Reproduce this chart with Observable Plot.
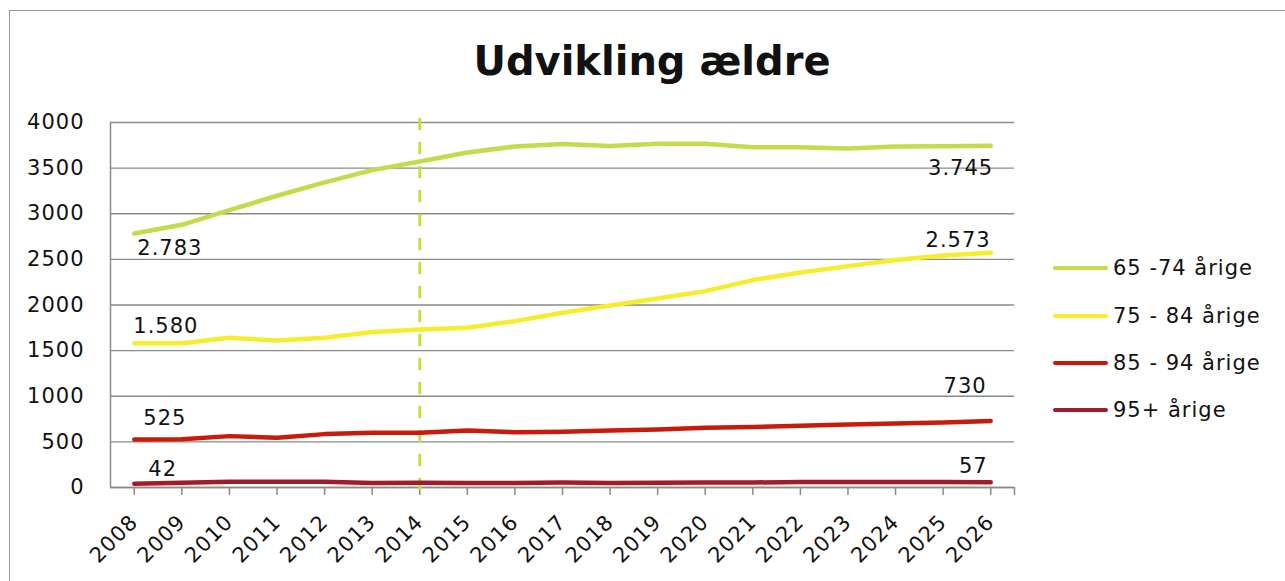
<!DOCTYPE html>
<html><head><meta charset="utf-8">
<script src="https://cdn.jsdelivr.net/npm/d3@7"></script>
<script src="https://cdn.jsdelivr.net/npm/@observablehq/plot@0.6"></script>
<style>
body{margin:0;background:#fff;}
#wrap{position:relative;width:1285px;height:581px;overflow:hidden;font-family:"DejaVu Sans",sans-serif;color:#111;background:#fff;}
#border{position:absolute;left:9px;top:10px;width:1400px;height:700px;border-left:1.5px solid #9a9a9a;border-top:1.5px solid #9a9a9a;}
#chart{position:absolute;left:0;top:0;}
#title{position:absolute;left:0;width:1304px;top:41px;text-align:center;font-weight:bold;font-size:40px;line-height:40px;}
#legend{position:absolute;left:1053px;top:0;}
.item{position:absolute;left:0;height:20px;display:flex;align-items:center;white-space:nowrap;font-size:21px;letter-spacing:1px;}
.sw{width:55px;height:4.5px;border-radius:3px;margin-right:5px;}
</style>
</head><body>
<div id="wrap">
  <div id="border"></div>
  <div id="chart"></div>
  <div id="title"></div>
  <div id="legend"></div>
</div>
<script>
// ---- data ----
const years = [2008,2009,2010,2011,2012,2013,2014,2015,2016,2017,2018,2019,2020,2021,2022,2023,2024,2025,2026];
const seriesNames = ["65 -74 årige","75 - 84 årige","85 - 94 årige","95+ årige"];
const v65 = [2783,2879,3040,3197,3343,3478,3573,3671,3737,3765,3743,3767,3767,3730,3730,3715,3738,3740,3745];
const v75 = [1580,1580,1640,1611,1640,1703,1732,1750,1823,1915,1995,2071,2152,2273,2357,2426,2492,2543,2573];
const v85 = [525,528,563,545,585,600,600,625,606,610,625,636,654,662,676,690,702,712,730];
const v95 = [42,51,62,62,62,50,53,50,50,55,50,53,55,55,60,60,60,60,57];
const yTicks = [0,500,1000,1500,2000,2500,3000,3500,4000];
const dividerYear = [2014];
const titleText = "Udvikling ældre";

// ---- styles ----
const colors = ["#c6da4b","#f7ec2d","#c81b0b","#a11b29"];
const gridColor = "#8a8a8a";
const firstLabelOffsets = [{dx:3,dy:14.5},{dx:-1,dy:-17},{dx:9,dy:-21.5},{dx:14,dy:-14}];
const lastLabelOffsets  = [{dx:2.5,dy:22.5},{dx:0,dy:-12.5},{dx:-4,dy:-34.5},{dx:-3,dy:-16.5}];

const allValues = [v65,v75,v85,v95];
const rows = [];
seriesNames.forEach((s,i) => years.forEach((y,j) => rows.push({series:s, idx:i, year:y, value:allValues[i][j]})));

const fmt = d3.formatLocale({decimal:",", thousands:".", grouping:[3], currency:["",""]}).format(",d");

const labelMarks = [];
seriesNames.forEach((s,i) => {
  const sr = rows.filter(r => r.series === s);
  const first = sr[0], last = sr[sr.length-1];
  labelMarks.push(Plot.text([first], {x:"year", y:"value", text:d => fmt(d.value), textAnchor:"start", dx:firstLabelOffsets[i].dx, dy:firstLabelOffsets[i].dy, fontSize:21, fill:"#111"}));
  labelMarks.push(Plot.text([last], {x:"year", y:"value", text:d => fmt(d.value), textAnchor:"end", dx:lastLabelOffsets[i].dx, dy:lastLabelOffsets[i].dy, fontSize:21, fill:"#111"}));
});

const xDomain = [years[0]-0.5, years[years.length-1]+0.5];

const chart = Plot.plot({
  width: 1285,
  height: 581,
  marginLeft: 110,
  marginRight: 271,
  marginTop: 122,
  marginBottom: 94,
  style: {fontFamily: '"DejaVu Sans", sans-serif', fontSize: "21px", color: "#111", background: "transparent", overflow: "visible", letterSpacing: "1px"},
  x: {type: "linear", domain: xDomain},
  y: {domain: [0, 4000]},
  color: {domain: seriesNames, range: colors},
  marks: [
    Plot.gridY(yTicks, {stroke: gridColor, strokeOpacity: 1, strokeWidth: 1.3}),
    Plot.ruleX([xDomain[0]], {stroke: gridColor, strokeWidth: 1.5}),
    Plot.ruleY([0], {stroke: gridColor, strokeWidth: 1.5}),
    Plot.axisY(yTicks, {tickSize: 0, tickPadding: 26, fontSize: 21, fill: "#111", tickFormat: d => String(d), label: null}),
    Plot.axisX(years, {tickSize: 8, stroke: gridColor, strokeWidth: 1.5, tickRotate: -45, tickPadding: 23, fontSize: 21, fill: "#111", tickFormat: d => String(d), label: null}),
    Plot.axisX([xDomain[1]], {tickSize: 8, stroke: gridColor, strokeWidth: 1.5, tickFormat: () => "", label: null}),
    Plot.ruleX(dividerYear, {stroke: "#c8dc46", strokeWidth: 3, strokeDasharray: "12,12", insetTop: -4, insetBottom: -11}),
    Plot.line(rows, {x: "year", y: "value", z: "series", stroke: "series", strokeWidth: 4.5, strokeLinecap: "round", strokeLinejoin: "round"}),
    ...labelMarks
  ]
});
document.getElementById("chart").appendChild(chart);
document.getElementById("title").textContent = titleText;

const legend = document.getElementById("legend");
const legendY = [268, 316, 363, 410];
seriesNames.forEach((s,i) => {
  const it = document.createElement("div");
  it.className = "item";
  it.style.top = (legendY[i] - 10) + "px";
  const sw = document.createElement("div");
  sw.className = "sw";
  sw.style.background = colors[i];
  const t = document.createElement("span");
  t.textContent = s;
  it.appendChild(sw); it.appendChild(t);
  legend.appendChild(it);
});
</script>
</body></html>
